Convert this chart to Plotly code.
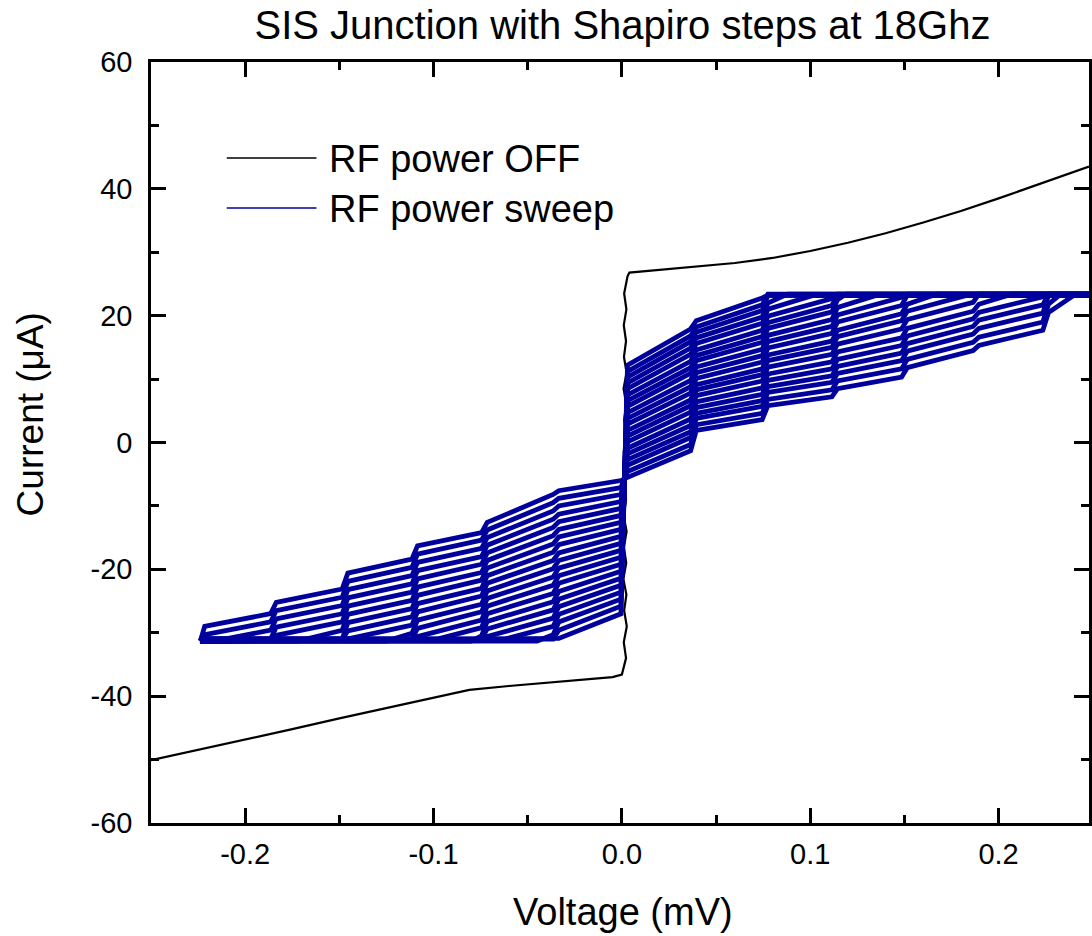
import plotly.graph_objects as go

# ---------------- data ----------------
# RF power OFF curve (voltage in mV, current in uA)
V_OFF = [-0.250, -0.225, -0.200, -0.175, -0.150, -0.125, -0.100, -0.081, -0.060, -0.040,
         -0.020, -0.005,
         0.0000, 0.0022, 0.0010, 0.0026, 0.0012, 0.0024, 0.0008, 0.0023, 0.0011, 0.0025,
         0.0009, 0.0022, 0.0013, 0.0026, 0.0010, 0.0024, 0.0012, 0.0023, 0.0009, 0.0025,
         0.0011, 0.0022, 0.0010, 0.0024, 0.0012, 0.0030,
         0.0040, 0.020, 0.040, 0.060, 0.080, 0.100, 0.120, 0.140, 0.160, 0.180, 0.200,
         0.220, 0.248]
I_OFF = [-50.1, -48.5, -46.8, -45.2, -43.5, -41.9, -40.2, -39.0, -38.4, -37.9,
         -37.4, -37.0,
         -36.6, -34.0, -31.5, -29.0, -26.5, -24.0, -21.5, -19.0, -16.5, -14.0,
         -11.5, -9.0, -6.5, -4.0, -1.5, 1.0, 3.5, 6.0, 8.5, 11.0,
         13.5, 16.0, 18.5, 21.0, 23.5, 26.2,
         26.8, 27.2, 27.7, 28.3, 29.1, 30.2, 31.5, 33.0, 34.7, 36.5, 38.5,
         40.6, 43.5]

# Shapiro step positions (index n = -6..6): left / right edge of each vertical band
STEP_N = [-6, -5, -4, -3, -2, -1, 0, 1, 2, 3, 4, 5, 6]
STEP_V_LEFT = [-0.2235, -0.1865, -0.1485, -0.1115, -0.0745, -0.0365, -0.0005,
               0.0365, 0.0745, 0.1115, 0.1485, 0.1865, 0.2235]
STEP_V_RIGHT = [-0.2215, -0.1835, -0.1455, -0.1085, -0.0715, -0.0335, 0.0030,
                0.0395, 0.0775, 0.1145, 0.1515, 0.1895, 0.2265]

# RF power sweep: each curve = (step n, current at bottom, current at top) per step
SWEEP_01 = [(-6, -31.0, -29.0), (-5, -27.0, -25.2), (-4, -23.1, -20.6), (-3, -18.4, -16.3),
            (-2, -14.2, -12.6), (-1, -8.2, -7.6), (0, -6.0, -5.5), (1, -1.3, 1.9), (2, 3.6, 5.8),
            (3, 7.2, 8.5), (4, 10.3, 11.8), (5, 14.5, 15.3), (6, 17.7, 20.5)]
SWEEP_02 = [(-6, -31.0, -30.3), (-5, -28.3, -26.5), (-4, -24.4, -21.9), (-3, -19.7, -17.6),
            (-2, -15.4, -13.8), (-1, -9.5, -8.8), (0, -7.1, -4.6), (1, -0.3, 2.8), (2, 4.6, 6.8),
            (3, 8.3, 9.7), (4, 11.6, 13.1), (5, 15.8, 16.6), (6, 19.0, 21.8)]
SWEEP_03 = [(-5, -29.6, -27.8), (-4, -25.7, -23.2), (-3, -21.0, -18.9), (-2, -16.7, -15.0),
            (-1, -10.8, -10.0), (0, -8.2, -3.6), (1, 0.8, 3.8), (2, 5.7, 7.9), (3, 9.5, 10.9),
            (4, 12.9, 14.4), (5, 17.1, 18.0), (6, 20.4, 23.2)]
SWEEP_04 = [(-5, -31.0, -29.1), (-4, -27.0, -24.5), (-3, -22.3, -20.2), (-2, -18.0, -16.2),
            (-1, -12.1, -11.3), (0, -9.3, -2.7), (1, 1.7, 4.6), (2, 6.6, 8.8), (3, 10.5, 12.0),
            (4, 14.1, 15.6), (5, 18.3, 19.3), (6, 21.7, 23.4)]
SWEEP_05 = [(-5, -31.0, -30.4), (-4, -28.3, -25.8), (-3, -23.6, -21.5), (-2, -19.2, -17.4),
            (-1, -13.4, -12.5), (0, -10.4, -1.8), (1, 2.7, 5.5), (2, 7.6, 9.8), (3, 11.6, 13.1),
            (4, 15.3, 16.8), (5, 19.5, 20.5), (6, 22.9, 23.2)]
SWEEP_06 = [(-4, -29.6, -27.1), (-3, -24.9, -22.8), (-2, -20.5, -18.6), (-1, -14.7, -13.7),
            (0, -11.5, -0.9), (1, 3.7, 6.4), (2, 8.6, 10.8), (3, 12.7, 14.3), (4, 16.5, 18.0),
            (5, 20.7, 21.8)]
SWEEP_07 = [(-4, -31.0, -28.4), (-3, -26.2, -24.1), (-2, -21.7, -19.8), (-1, -16.0, -14.9),
            (0, -12.6, 0.1), (1, 4.8, 7.4), (2, 9.7, 11.9), (3, 13.9, 15.5), (4, 17.9, 19.4),
            (5, 22.1, 23.4)]
SWEEP_08 = [(-4, -31.0, -29.7), (-3, -27.5, -25.4), (-2, -23.0, -21.0), (-1, -17.3, -16.1),
            (0, -13.7, 1.0), (1, 5.8, 8.3), (2, 10.7, 12.9), (3, 15.0, 16.7), (4, 19.2, 20.7)]
SWEEP_09 = [(-3, -28.8, -26.7), (-2, -24.2, -22.2), (-1, -18.6, -17.4), (0, -14.8, 1.9),
            (1, 6.7, 9.1), (2, 11.6, 13.8), (3, 16.0, 17.7), (4, 20.3, 21.8)]
SWEEP_10 = [(-3, -30.1, -28.0), (-2, -25.5, -23.4), (-1, -19.9, -18.6), (0, -15.9, 2.9),
            (1, 7.8, 10.1), (2, 12.7, 14.9), (3, 17.2, 19.0), (4, 21.6, 23.2)]
SWEEP_11 = [(-3, -31.0, -29.3), (-2, -26.7, -24.6), (-1, -21.2, -19.8), (0, -17.0, 3.8),
            (1, 8.8, 11.0), (2, 13.7, 15.9), (3, 18.3, 20.1), (4, 22.9, 23.4)]
SWEEP_12 = [(-3, -31.0, -30.6), (-2, -28.0, -25.8), (-1, -22.5, -21.0), (0, -18.1, 4.7),
            (1, 9.8, 11.9), (2, 14.7, 16.9), (3, 19.4, 21.3)]
SWEEP_13 = [(-2, -29.2, -27.0), (-1, -23.8, -22.2), (0, -19.2, 5.7), (1, 10.9, 12.9),
            (2, 15.8, 18.0), (3, 20.6, 22.5)]
SWEEP_14 = [(-2, -30.5, -28.2), (-1, -25.1, -23.5), (0, -20.3, 6.6), (1, 11.8, 13.7),
            (2, 16.7, 18.9), (3, 21.6, 23.2)]
SWEEP_15 = [(-2, -31.0, -29.4), (-1, -26.4, -24.7), (0, -21.4, 7.5), (1, 12.8, 14.6),
            (2, 17.7, 19.9), (3, 22.7, 23.4)]
SWEEP_16 = [(-2, -31.0, -30.6), (-1, -27.7, -25.9), (0, -22.5, 8.5), (1, 13.9, 15.6),
            (2, 18.8, 21.0)]
SWEEP_17 = [(-1, -29.0, -27.1), (0, -23.6, 9.4), (1, 14.9, 16.5), (2, 19.8, 22.0)]
SWEEP_18 = [(-1, -30.3, -28.3), (0, -24.7, 10.3), (1, 15.9, 17.4), (2, 20.8, 23.2)]
SWEEP_19 = [(-1, -31.0, -29.6), (0, -25.8, 11.2), (1, 16.8, 18.2), (2, 21.7, 23.4)]
SWEEP_20 = [(-1, -31.0, -30.9), (0, -27.0, 12.2), (1, 17.9, 19.2), (2, 22.8, 23.2)]

# voltage where a curve leaves the lowest bias current (None = leaves it on a step)
SWEEP_START_V = [None, None, -0.211, None, None, -0.172, None, None, -0.146, -0.125,
                 None, None, -0.098, -0.080, None, None, -0.062, -0.045, None, None]
# lowest bias current of each sweep, held from the far left end
SWEEP_START_I = [-31.0, -31.3, -31.0, -31.3, -31.0, -31.3, -31.0, -31.3, -31.0, -31.3,
                 -31.0, -31.3, -31.0, -31.3, -31.0, -31.3, -31.0, -31.3, -31.0, -31.3]
SWEEP_HEAD_V = -0.224
# voltage where a curve reaches the highest bias current (None = reaches it on a step)
SWEEP_END_V = [0.240, 0.233, None, None, None, 0.207, None, 0.183, 0.167, None,
               None, 0.135, 0.119, None, None, 0.1015, 0.088, None, None, None]
SWEEP_END_I = [23.2, 23.4, 23.2, 23.4, 23.2, 23.4, 23.4, 23.2, 23.4, 23.2,
               23.4, 23.2, 23.4, 23.2, 23.4, 23.2, 23.4, 23.2, 23.4, 23.2]
SWEEP_TAIL_V = 0.248

X_TICKS = [-0.2, -0.1, 0.0, 0.1, 0.2]
X_TICK_TEXT = ["-0.2", "-0.1", "0.0", "0.1", "0.2"]
X_MINOR = [-0.25, -0.15, -0.05, 0.05, 0.15, 0.25]
Y_TICKS = [-60, -40, -20, 0, 20, 40, 60]
Y_TICK_TEXT = ["-60", "-40", "-20", "0", "20", "40", "60"]
Y_MINOR = [-50, -30, -10, 10, 30, 50]

SWEEPS = [SWEEP_01, SWEEP_02, SWEEP_03, SWEEP_04, SWEEP_05, SWEEP_06, SWEEP_07,
          SWEEP_08, SWEEP_09, SWEEP_10, SWEEP_11, SWEEP_12, SWEEP_13, SWEEP_14,
          SWEEP_15, SWEEP_16, SWEEP_17, SWEEP_18, SWEEP_19, SWEEP_20]

# ---------------- figure ----------------
FONT = "Liberation Sans, Arial, sans-serif"
BLUE = "#00009C"
W, H = 1092, 936
L, R, T, B = 151, 0, 62, 113

fig = go.Figure()

fig.add_trace(go.Scatter(x=V_OFF, y=I_OFF, mode="lines", name="RF power OFF",
                         line=dict(color="black", width=2.2), showlegend=False))

left = dict(zip(STEP_N, STEP_V_LEFT))
right = dict(zip(STEP_N, STEP_V_RIGHT))
for k, steps in enumerate(SWEEPS):
    xs, ys = [SWEEP_HEAD_V], [SWEEP_START_I[k]]
    if SWEEP_START_V[k] is not None:
        xs.append(SWEEP_START_V[k]); ys.append(SWEEP_START_I[k])
    for n, lo, hi in steps:
        xs += [left[n], right[n]]
        ys += [lo, hi]
    if SWEEP_END_V[k] is not None:
        xs.append(SWEEP_END_V[k]); ys.append(SWEEP_END_I[k])
    xs.append(SWEEP_TAIL_V); ys.append(SWEEP_END_I[k])
    fig.add_trace(go.Scatter(x=xs, y=ys, mode="lines", name="RF power sweep",
                             line=dict(color=BLUE, width=4.8), showlegend=False))

axis_common = dict(
    showline=True, linecolor="black", linewidth=2.5, mirror="ticks",
    ticks="inside", ticklen=15, tickwidth=2.5, tickcolor="black",
    showgrid=False, zeroline=False,
    tickfont=dict(family=FONT, size=29, color="black"),
)
fig.update_xaxes(range=[-0.25, 0.248], tickvals=X_TICKS, ticktext=X_TICK_TEXT,
                 minor=dict(ticks="inside", ticklen=8, tickwidth=2.5, tickcolor="black",
                            tickvals=X_MINOR),
                 ticklabelstandoff=3, **axis_common)
fig.update_yaxes(range=[-60, 60], tickvals=Y_TICKS, ticktext=Y_TICK_TEXT,
                 minor=dict(ticks="inside", ticklen=8, tickwidth=2.5, tickcolor="black",
                            tickvals=Y_MINOR),
                 ticklabelstandoff=10, **axis_common)

pw, ph = W - L - R, H - T - B
def px(x):
    return (x - L) / pw
def py(y):
    return (H - B - y) / ph

# manual legend
fig.add_shape(type="line", xref="paper", yref="paper", x0=px(227), x1=px(317),
              y0=py(158), y1=py(158), line=dict(color="black", width=1.5))
fig.add_shape(type="line", xref="paper", yref="paper", x0=px(227), x1=px(317),
              y0=py(208), y1=py(208), line=dict(color=BLUE, width=1.5))
fig.add_annotation(xref="paper", yref="paper", x=px(328), y=py(159), xanchor="left",
                   yanchor="middle", text="RF power OFF", showarrow=False,
                   font=dict(family=FONT, size=38, color="black"))
fig.add_annotation(xref="paper", yref="paper", x=px(328), y=py(209), xanchor="left",
                   yanchor="middle", text="RF power sweep", showarrow=False,
                   font=dict(family=FONT, size=38, color="black"))

# axis titles
fig.add_annotation(xref="paper", yref="paper", x=px(625), y=py(912), xanchor="center",
                   yanchor="middle", text="Voltage (mV)", showarrow=False,
                   font=dict(family=FONT, size=38, color="black"))
fig.add_annotation(xref="paper", yref="paper", x=px(30), y=py(414), xanchor="center",
                   yanchor="middle", text="Current (\u03bcA)", showarrow=False, textangle=-90,
                   font=dict(family=FONT, size=37, color="black"))

fig.update_layout(
    width=W, height=H,
    margin=dict(l=L, r=R, t=T, b=B, pad=0),
    paper_bgcolor="white", plot_bgcolor="white",
    title=dict(text="SIS Junction with Shapiro steps at 18Ghz", x=px(624), xref="paper",
               xanchor="center", y=1 - 25 / H, yref="container", yanchor="middle",
               font=dict(family=FONT, size=40, color="black")),
    showlegend=False,
)

fig.write_html("out.html")
